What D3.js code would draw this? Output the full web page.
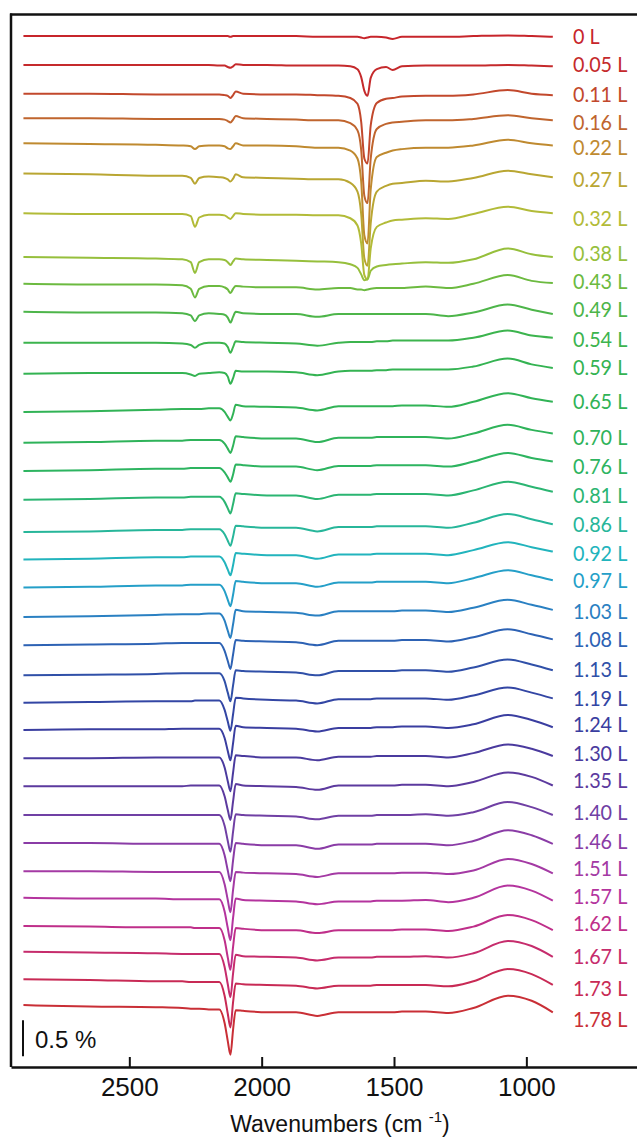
<!DOCTYPE html>
<html>
<head>
<meta charset="utf-8">
<script src="https://cdn.jsdelivr.net/npm/d3@7"></script>
<style>
  body { margin: 0; background: #fff; }
  .tick text { font-family: "Liberation Sans", Arial, sans-serif; }
</style>
</head>
<body>
<svg id="chart" width="637" height="1138"></svg>
<script>
// wavenumber grid the spectra were read at (cm-1)
const wavenumbers = [2900, 2650, 2400, 2300, 2268, 2252, 2236, 2200, 2160, 2140, 2128, 2118, 2108, 2098, 2070,
  1980, 1870, 1790, 1710, 1665, 1638, 1624, 1612, 1600, 1588, 1565, 1530, 1505, 1470, 1380, 1295, 1200, 1070, 980, 900];

const doses = ["0 L", "0.05 L", "0.11 L", "0.16 L", "0.22 L", "0.27 L", "0.32 L", "0.38 L", "0.43 L", "0.49 L",
  "0.54 L", "0.59 L", "0.65 L", "0.70 L", "0.76 L", "0.81 L", "0.86 L", "0.92 L", "0.97 L", "1.03 L", "1.08 L",
  "1.13 L", "1.19 L", "1.24 L", "1.30 L", "1.35 L", "1.40 L", "1.46 L", "1.51 L", "1.57 L", "1.62 L", "1.67 L",
  "1.73 L", "1.78 L"];

// vertical stacking offset of each spectrum (%)
const offsets = [14.32, 13.92, 13.52, 13.18, 12.83, 12.41, 11.86, 11.25, 10.88, 10.49,
  10.06, 9.63, 9.10, 8.67, 8.28, 7.88, 7.43, 7.05, 6.66, 6.25, 5.86,
  5.44, 5.06, 4.68, 4.29, 3.90, 3.50, 3.11, 2.72, 2.35, 1.96, 1.60,
  1.22, 0.86];

const colors = ["#c7252b", "#c52a2c", "#c2482c", "#c0652e", "#bf8a30", "#b9a632", "#b2bb38", "#96bf3c", "#6cba40", "#4db54a",
  "#3cb44e", "#34b352", "#31b356", "#2fb35a", "#2db460", "#2bb572", "#27b69a", "#22b4bd", "#259fc8", "#2a80c2", "#2d62b4",
  "#3050a8", "#3346a4", "#3a3ea0", "#4a3a9e", "#5c3a9e", "#7040a4", "#8a3ca6", "#a43aa4", "#b4349e", "#bf2f8a", "#c62c6c",
  "#c82a55", "#c92f36"];

// change in reflectance (%) at each wavenumber, one row per dose
const spectra = [
  [0,0,0,0,0,0,0,0,0,0,0,-0.01,0,0,0,0,0,-0.01,-0.01,-0.01,-0.01,-0.02,-0.03,-0.02,-0.01,-0.01,-0.02,-0.04,-0.01,-0.01,-0.01,0,0.01,0,-0.01],
  [0,0,0,0,0,0,0,0,-0.01,-0.01,-0.03,-0.04,-0.02,0.01,0,0,-0.01,-0.01,-0.01,-0.02,-0.06,-0.17,-0.36,-0.43,-0.18,-0.06,-0.03,-0.07,-0.02,-0.01,-0.01,-0.01,0,-0.01,-0.02],
  [0,0,-0.01,-0.01,-0.01,-0.01,-0.01,-0.01,-0.01,-0.02,-0.03,-0.06,-0.02,0.03,0,-0.01,-0.01,-0.02,-0.03,-0.06,-0.14,-0.39,-0.9,-0.97,-0.44,-0.13,-0.07,-0.06,-0.04,-0.03,-0.03,-0.01,0.05,0,-0.02],
  [0,0,-0.01,-0.01,-0.01,-0.01,-0.01,-0.01,-0.01,-0.02,-0.04,-0.06,-0.02,0.03,0,-0.01,-0.02,-0.03,-0.03,-0.07,-0.17,-0.44,-1.08,-1.18,-0.56,-0.15,-0.08,-0.06,-0.05,-0.03,-0.03,-0.01,0.04,0,-0.03],
  [0,-0.01,-0.02,-0.03,-0.04,-0.08,-0.04,-0.03,-0.03,-0.04,-0.07,-0.08,-0.04,0,-0.03,-0.03,-0.04,-0.06,-0.06,-0.1,-0.21,-0.53,-1.28,-1.39,-0.64,-0.19,-0.13,-0.1,-0.08,-0.06,-0.06,-0.03,0.05,0,-0.03],
  [0,-0.01,-0.03,-0.03,-0.06,-0.14,-0.06,-0.04,-0.05,-0.06,-0.08,-0.11,-0.07,-0.01,-0.05,-0.06,-0.07,-0.08,-0.08,-0.13,-0.25,-0.56,-1.18,-1.28,-0.69,-0.25,-0.17,-0.14,-0.13,-0.1,-0.11,-0.06,0.04,-0.01,-0.05],
  [0,-0.01,-0.01,-0.01,-0.04,-0.19,-0.06,-0.02,-0.02,-0.03,-0.06,-0.08,-0.04,0,-0.01,-0.02,-0.02,-0.03,-0.03,-0.07,-0.17,-0.42,-0.86,-0.92,-0.49,-0.19,-0.13,-0.1,-0.09,-0.07,-0.08,-0.01,0.09,0.03,0],
  [0,-0.01,-0.02,-0.03,-0.07,-0.22,-0.07,-0.03,-0.03,-0.04,-0.07,-0.11,-0.06,-0.02,-0.03,-0.04,-0.05,-0.06,-0.07,-0.1,-0.15,-0.24,-0.32,-0.31,-0.19,-0.13,-0.11,-0.1,-0.09,-0.07,-0.08,-0.03,0.12,0.04,0],
  [0,-0.01,-0.01,-0.02,-0.07,-0.19,-0.07,-0.03,-0.03,-0.05,-0.08,-0.13,-0.07,-0.03,-0.04,-0.05,-0.05,-0.08,-0.06,-0.06,-0.08,-0.08,-0.09,-0.08,-0.07,-0.06,-0.06,-0.06,-0.06,-0.04,-0.06,0,0.12,0.04,0.01],
  [0,-0.01,-0.01,-0.02,-0.05,-0.13,-0.05,-0.02,-0.03,-0.04,-0.08,-0.15,-0.07,0,-0.02,-0.03,-0.03,-0.07,-0.03,-0.03,-0.03,-0.03,-0.03,-0.03,-0.03,-0.03,-0.03,-0.03,-0.03,-0.03,-0.06,-0.01,0.1,0.03,-0.03],
  [0,0,0,-0.01,-0.03,-0.07,-0.03,0,0,-0.01,-0.06,-0.14,-0.06,0.02,0.01,0,-0.01,-0.04,0,0.01,0.01,0.01,0.01,0.01,0.01,0.02,0.02,0.03,0.03,0.03,0.03,0.07,0.17,0.1,0.07],
  [0,0.01,0.01,0.01,-0.01,-0.03,0,0.01,0.02,0.01,-0.04,-0.14,-0.06,0.04,0.03,0.03,0.02,-0.02,0.03,0.04,0.04,0.04,0.04,0.04,0.04,0.05,0.05,0.06,0.06,0.06,0.06,0.1,0.21,0.13,0.08],
  [0,0.01,0.03,0.04,0.04,0.04,0.04,0.05,0.05,0,-0.07,-0.12,-0.03,0.1,0.08,0.07,0.06,0.02,0.08,0.08,0.08,0.08,0.08,0.08,0.08,0.08,0.08,0.08,0.09,0.09,0.07,0.14,0.26,0.19,0.14],
  [0,0.01,0.03,0.03,0.04,0.04,0.04,0.04,0.04,-0.01,-0.08,-0.14,-0.04,0.09,0.08,0.06,0.06,0.01,0.07,0.07,0.07,0.07,0.07,0.07,0.07,0.08,0.08,0.08,0.08,0.08,0.06,0.13,0.25,0.18,0.13],
  [0,0.01,0.03,0.03,0.04,0.04,0.04,0.04,0.04,-0.02,-0.09,-0.15,-0.05,0.09,0.08,0.06,0.06,0.01,0.07,0.07,0.07,0.07,0.07,0.07,0.07,0.08,0.08,0.08,0.08,0.08,0.06,0.13,0.25,0.18,0.13],
  [0,0.01,0.03,0.03,0.04,0.04,0.04,0.04,0.04,-0.03,-0.12,-0.19,-0.06,0.09,0.08,0.06,0.06,0.01,0.07,0.07,0.07,0.07,0.07,0.07,0.07,0.08,0.08,0.08,0.08,0.08,0.06,0.13,0.25,0.18,0.11],
  [0,0.01,0.03,0.03,0.04,0.04,0.04,0.04,0.04,-0.03,-0.12,-0.19,-0.06,0.09,0.08,0.06,0.06,0.01,0.07,0.07,0.07,0.07,0.07,0.07,0.07,0.08,0.08,0.08,0.08,0.08,0.06,0.13,0.25,0.18,0.11],
  [0,0.01,0.03,0.03,0.04,0.04,0.04,0.04,0.04,-0.04,-0.14,-0.22,-0.08,0.09,0.08,0.06,0.06,0.01,0.07,0.07,0.07,0.07,0.07,0.07,0.07,0.08,0.08,0.08,0.08,0.08,0.06,0.13,0.24,0.17,0.11],
  [0,0.01,0.03,0.03,0.04,0.04,0.04,0.04,0.04,-0.05,-0.17,-0.26,-0.1,0.09,0.08,0.06,0.06,0.01,0.07,0.07,0.07,0.07,0.07,0.07,0.07,0.08,0.08,0.08,0.08,0.08,0.06,0.13,0.24,0.17,0.1],
  [0,0.01,0.03,0.04,0.04,0.04,0.04,0.05,0.05,-0.05,-0.19,-0.29,-0.1,0.1,0.08,0.07,0.06,0.02,0.08,0.08,0.08,0.08,0.08,0.08,0.08,0.08,0.08,0.08,0.09,0.09,0.07,0.13,0.24,0.17,0.1],
  [0,0.01,0.02,0.03,0.03,0.03,0.03,0.03,0.03,-0.08,-0.22,-0.33,-0.13,0.07,0.06,0.05,0.04,0,0.06,0.06,0.06,0.06,0.06,0.06,0.06,0.06,0.06,0.06,0.07,0.07,0.05,0.11,0.22,0.15,0.08],
  [0,0.01,0.02,0.03,0.03,0.03,0.03,0.03,0.03,-0.08,-0.24,-0.36,-0.14,0.07,0.06,0.05,0.04,0,0.06,0.06,0.06,0.06,0.06,0.06,0.06,0.06,0.06,0.06,0.07,0.07,0.05,0.11,0.22,0.15,0.07],
  [0,0.01,0.02,0.02,0.02,0.03,0.03,0.03,0.03,-0.1,-0.26,-0.39,-0.16,0.07,0.06,0.04,0.03,-0.01,0.05,0.05,0.05,0.05,0.05,0.05,0.05,0.06,0.06,0.06,0.06,0.06,0.04,0.1,0.21,0.14,0.06],
  [0,0.01,0.01,0.02,0.02,0.02,0.02,0.02,0.02,-0.11,-0.29,-0.42,-0.18,0.06,0.04,0.03,0.02,-0.02,0.03,0.03,0.03,0.03,0.03,0.03,0.03,0.04,0.04,0.04,0.05,0.05,0.03,0.08,0.21,0.14,0.04],
  [0,0,0.01,0.01,0.01,0.01,0.01,0.01,0.01,-0.13,-0.32,-0.46,-0.2,0.04,0.03,0.01,0.01,-0.03,0.02,0.02,0.02,0.02,0.02,0.02,0.02,0.03,0.03,0.03,0.03,0.03,0.01,0.07,0.19,0.13,0.03],
  [0,0,0,0,0.01,0.01,0.01,0.01,0.01,-0.14,-0.33,-0.47,-0.21,0.03,0.01,0,-0.01,-0.05,0.01,0.01,0.01,0.01,0.01,0.01,0.01,0.01,0.01,0.01,0.02,0.02,0,0.06,0.19,0.13,0.01],
  [0,0,0,0,0,0,0,0,0,-0.15,-0.36,-0.51,-0.23,0.01,0,-0.01,-0.02,-0.06,-0.01,-0.01,-0.01,-0.01,-0.01,-0.01,-0.01,0,0,0,0,0.01,-0.01,0.04,0.18,0.11,0],
  [0,0,-0.01,-0.01,-0.01,-0.01,-0.01,-0.01,-0.01,-0.17,-0.38,-0.53,-0.24,0,-0.01,-0.03,-0.03,-0.08,-0.02,-0.02,-0.02,-0.02,-0.02,-0.02,-0.02,-0.01,-0.01,-0.01,-0.01,-0.01,-0.03,0.03,0.18,0.11,-0.01],
  [0,0,-0.01,-0.01,-0.01,-0.01,-0.01,-0.01,-0.01,-0.18,-0.4,-0.57,-0.26,-0.01,-0.02,-0.03,-0.04,-0.08,-0.03,-0.03,-0.03,-0.03,-0.03,-0.03,-0.03,-0.03,-0.03,-0.03,-0.02,-0.02,-0.04,0.01,0.17,0.1,-0.03],
  [0,-0.01,-0.01,-0.02,-0.02,-0.02,-0.02,-0.02,-0.02,-0.19,-0.42,-0.59,-0.28,-0.01,-0.03,-0.04,-0.05,-0.09,-0.05,-0.05,-0.05,-0.05,-0.05,-0.05,-0.05,-0.04,-0.04,-0.04,-0.04,-0.03,-0.06,0,0.17,0.1,-0.04],
  [0,-0.01,-0.02,-0.02,-0.02,-0.03,-0.03,-0.03,-0.03,-0.2,-0.44,-0.61,-0.29,-0.03,-0.04,-0.06,-0.06,-0.1,-0.06,-0.06,-0.06,-0.06,-0.06,-0.06,-0.06,-0.06,-0.06,-0.06,-0.05,-0.05,-0.07,-0.01,0.15,0.08,-0.06],
  [0,-0.01,-0.02,-0.03,-0.03,-0.03,-0.03,-0.03,-0.03,-0.21,-0.45,-0.63,-0.3,-0.04,-0.06,-0.07,-0.08,-0.12,-0.08,-0.08,-0.08,-0.08,-0.08,-0.08,-0.08,-0.07,-0.07,-0.07,-0.07,-0.06,-0.08,-0.02,0.15,0.08,-0.07],
  [0,-0.01,-0.03,-0.03,-0.04,-0.04,-0.04,-0.04,-0.04,-0.23,-0.48,-0.67,-0.32,-0.06,-0.07,-0.08,-0.09,-0.13,-0.09,-0.09,-0.09,-0.09,-0.09,-0.09,-0.09,-0.08,-0.08,-0.08,-0.08,-0.08,-0.1,-0.03,0.14,0.07,-0.08],
  [0,-0.02,-0.03,-0.04,-0.05,-0.05,-0.05,-0.06,-0.06,-0.25,-0.5,-0.69,-0.34,-0.07,-0.08,-0.1,-0.1,-0.15,-0.1,-0.1,-0.1,-0.1,-0.1,-0.1,-0.1,-0.1,-0.1,-0.1,-0.09,-0.09,-0.11,-0.04,0.13,0.06,-0.1]
];

const xTicks = [2500, 2000, 1500, 1000];
const scaleBarSize = 0.5;   // %

// layout: vertical centre of each dose label (px)
const labelY = [35.7, 64.3, 94.3, 121.7, 146.7, 179, 217.7, 253.3, 281, 309.3, 339.3, 366.7, 400.7, 436.7,
  466, 495, 524, 552.7, 580, 611, 639.3, 669.3, 698.3, 724.3, 752.7, 780, 811.7, 840.7, 868.3, 896, 923.3,
  955.7, 987.7, 1019.3];

const svg = d3.select("#chart");

// plot frame: left at x=11, top at 14.5, bottom axis at 1067
const x = d3.scaleLinear().domain([2947, 582]).range([11, 637]);
const y = d3.scaleLinear().domain([0, 14.62]).range([1067, 14.5]);

const line = d3.line()
    .x((d, j) => x(wavenumbers[j]))
    .y(d => d)
    .curve(d3.curveMonotoneX);

const traces = svg.append("g");
spectra.forEach((row, i) => {
    traces.append("path")
        .attr("d", line(row.map(v => y(offsets[i] + v))))
        .attr("fill", "none")
        .attr("stroke", colors[i])
        .attr("stroke-width", 2)
        .attr("stroke-linejoin", "round");
});

// dose labels right of the traces
const labels = svg.append("g");
doses.forEach((d, i) => {
    labels.append("text")
        .attr("transform", `translate(573,${labelY[i]}) scale(0.9,1)`)
        .attr("dy", "0.36em")
        .attr("fill", colors[i])
        .attr("font-family", "Lato, 'Open Sans', sans-serif")
        .attr("font-size", 22)
        .text(d);
});

// frame
svg.append("line")
    .attr("x1", 11).attr("x2", 11).attr("y1", 13.5).attr("y2", 1067)
    .attr("stroke", "#111").attr("stroke-width", 2.5);
svg.append("line")
    .attr("x1", 10).attr("x2", 637).attr("y1", 14.5).attr("y2", 14.5)
    .attr("stroke", "#111").attr("stroke-width", 2.5);

const xAxis = svg.append("g")
    .attr("transform", "translate(0,1067)")
    .call(d3.axisBottom(x).tickValues(xTicks).tickSize(-10).tickSizeOuter(0).tickPadding(11).tickFormat(d3.format("d")));
xAxis.select(".domain").attr("stroke", "#111").attr("stroke-width", 2.5);
xAxis.selectAll(".tick line").attr("stroke", "#111").attr("stroke-width", 2);
xAxis.selectAll(".tick text").attr("font-size", 26).attr("fill", "#111");

// axis title
const title = svg.append("text")
    .attr("x", 340).attr("y", 1132)
    .attr("text-anchor", "middle")
    .attr("font-family", "'Liberation Sans', Arial, sans-serif")
    .attr("font-size", 23)
    .attr("fill", "#111");
title.append("tspan").text("Wavenumbers (cm ");
title.append("tspan").attr("dy", -10).attr("font-size", 15).text("-1");
title.append("tspan").attr("dy", 10).text(")");

// 0.5 % scale bar
svg.append("line")
    .attr("x1", 23).attr("x2", 23)
    .attr("y1", y(0.15)).attr("y2", y(0.15 + scaleBarSize))
    .attr("stroke", "#111").attr("stroke-width", 2);
svg.append("text")
    .attr("x", 35).attr("y", 1048)
    .attr("font-family", "'Liberation Sans', Arial, sans-serif")
    .attr("font-size", 24)
    .attr("fill", "#111")
    .text(`${scaleBarSize} %`);
</script>
</body>
</html>
